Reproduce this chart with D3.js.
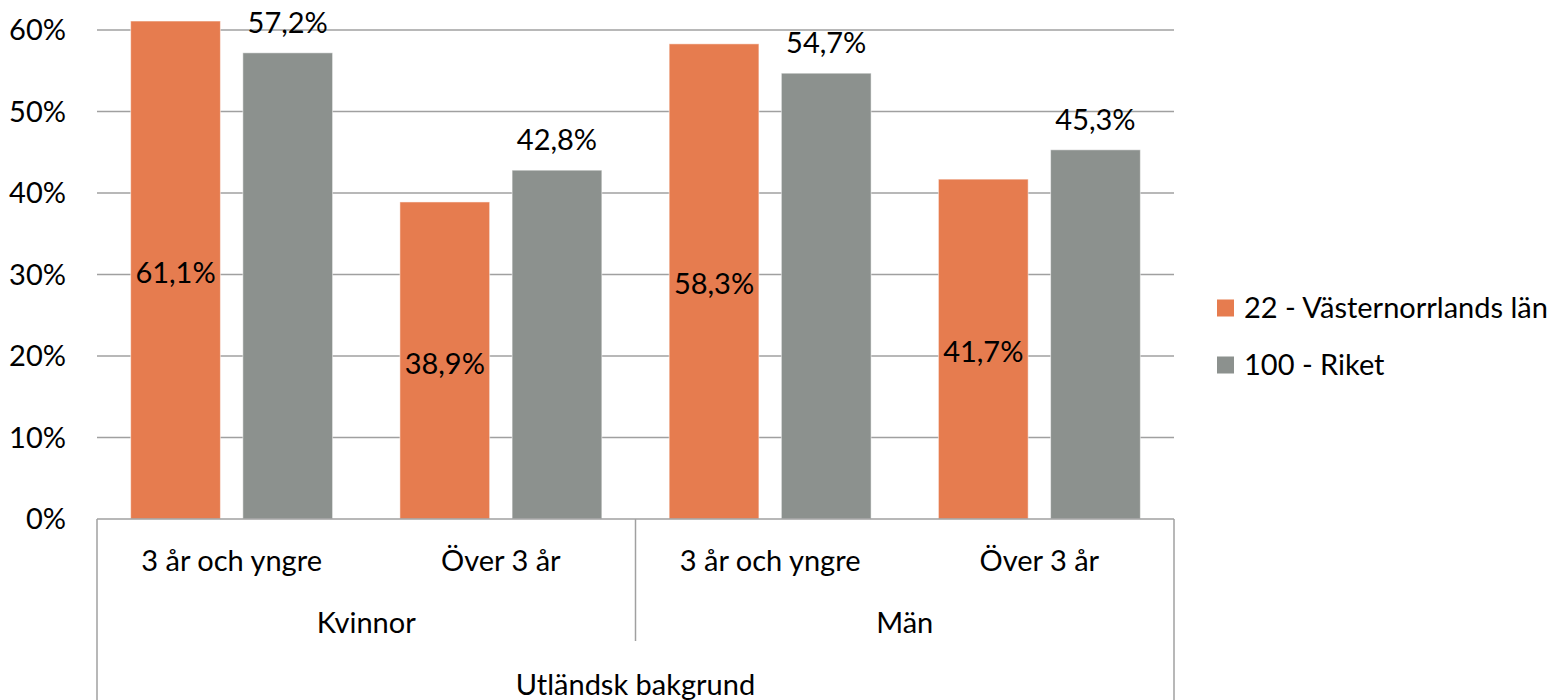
<!DOCTYPE html>
<html><head><meta charset="utf-8">
<script src="https://cdn.jsdelivr.net/npm/d3@7"></script>
<style>body{margin:0;background:#fff}svg{display:block}text{font-family:Lato,"Open Sans",sans-serif;fill:#000}</style>
</head><body><svg id="c" width="1558" height="700"></svg>
<script>
const categories = ["3 år och yngre","Över 3 år","3 år och yngre","Över 3 år"];
const groups = ["Kvinnor","Män"];
const topGroup = "Utländsk bakgrund";
const seriesNames = ["22 - Västernorrlands län","100 - Riket"];
const vasternorrland = [61.1,38.9,58.3,41.7];
const riket = [57.2,42.8,54.7,45.3];
const yTicks = [0,10,20,30,40,50,60];
const colors = ["#E67C4F","#8C918E"];

const svg = d3.select("#c");
const L=97,R=1174,T=30,B=519;
const y = d3.scaleLinear().domain([0,60]).range([B,T]);
const x0 = d3.scaleBand().domain(d3.range(categories.length)).range([L,R]).padding(0);
const x1 = d3.scaleBand().domain([0,1]).range([0,x0.bandwidth()]).paddingInner(0.2).paddingOuter(0.3);
const fs = 29;

// gridlines
svg.append("g").selectAll("line").data(yTicks.filter(d=>d>0)).join("line")
  .attr("x1",L).attr("x2",R).attr("y1",d=>y(d)).attr("y2",d=>y(d))
  .attr("stroke","#a0a0a0").attr("stroke-width",1.5);
// y labels
svg.append("g").selectAll("text").data(yTicks).join("text")
  .attr("x",66).attr("y",d=>y(d)).attr("dy","0.36em").attr("text-anchor","end")
  .attr("font-size",fs).text(d=>d+"%");

const series=[vasternorrland,riket];
const fmt = v=>v.toFixed(1).replace(".",",")+"%";
series.forEach((vals,si)=>{
  svg.append("g").selectAll("rect").data(vals).join("rect")
    .attr("x",(d,i)=>x0(i)+x1(si)).attr("width",x1.bandwidth())
    .attr("y",d=>y(d)).attr("height",d=>B-y(d))
    .attr("fill",colors[si]).attr("stroke","#fff").attr("stroke-opacity",0.5).attr("stroke-width",1);
  svg.append("g").selectAll("text").data(vals).join("text")
    .attr("x",(d,i)=>x0(i)+x1(si)+x1.bandwidth()/2)
    .attr("y",d=> si===0 ? (y(d)+B)/2 : y(d)-20)
    .attr("dy", si===0 ? "0.45em" : "0")
    .attr("text-anchor","middle").attr("font-size",fs).text(d=>fmt(d));
});

// category axis
const ax = svg.append("g").attr("stroke","#a0a0a0").attr("stroke-width",1.5);
ax.append("line").attr("x1",L).attr("x2",R).attr("y1",B).attr("y2",B);
ax.append("line").attr("x1",L).attr("x2",L).attr("y1",B).attr("y2",700);
ax.append("line").attr("x1",R).attr("x2",R).attr("y1",B).attr("y2",700);
ax.append("line").attr("x1",x0(2)).attr("x2",x0(2)).attr("y1",B).attr("y2",641);

svg.append("g").selectAll("text").data(categories).join("text")
  .attr("x",(d,i)=>x0(i)+x0.bandwidth()/2).attr("y",561).attr("dy","0.36em")
  .attr("text-anchor","middle").attr("font-size",fs).text(d=>d);
svg.append("g").selectAll("text").data(groups).join("text")
  .attr("x",(d,i)=>(x0(i*2)+x0(i*2+1)+x0.bandwidth())/2).attr("y",623).attr("dy","0.36em")
  .attr("text-anchor","middle").attr("font-size",fs).text(d=>d);
svg.append("text").attr("x",(L+R)/2).attr("y",685).attr("dy","0.36em")
  .attr("text-anchor","middle").attr("font-size",fs).text(topGroup);

// legend
const lg = svg.append("g").selectAll("g").data(seriesNames).join("g")
  .attr("transform",(d,i)=>`translate(1217,${308+i*57})`);
lg.append("rect").attr("x",0).attr("y",-8.5).attr("width",17).attr("height",17).attr("fill",(d,i)=>colors[i]);
lg.append("text").attr("x",27).attr("y",0).attr("dy","0.36em").attr("font-size",fs).text(d=>d);
</script></body></html>
